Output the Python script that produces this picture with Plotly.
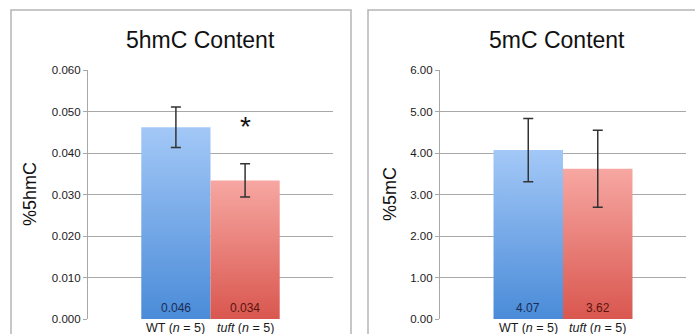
import plotly.graph_objects as go

# ---- data ----
groups = ["WT", "tuft"]
tick_labels = ["WT (<i>n</i> = 5)", "<i>tuft</i> (<i>n</i> = 5)"]
hmc_values = [0.046, 0.034]
hmc_display = [0.0462, 0.0334]
hmc_err = [0.0049, 0.0040]
mc_values = [4.07, 3.62]
mc_err = [0.76, 0.93]
titles = ["5hmC Content", "5mC Content"]
ytitles = ["%5hmC", "%5mC"]

W, H = 695, 334
FONT = "Liberation Sans, Arial, sans-serif"

blue_scale = [[0, "#4a8bd8"], [1, "#a3c8f7"]]
red_scale = [[0, "#d9574f"], [1, "#f7a7a2"]]
scales = [blue_scale, red_scale]
label_colors = ["#1a2d55", "#5a1410"]

fig = go.Figure()

def px_x(p):
    return p / W

def px_y(p):
    return (H - p) / H

panels = [
    dict(xa="x", ya="y", vals=hmc_display, lbl=hmc_values, err=hmc_err, fmt="{:.3f}",
         dom=[px_x(88), px_x(333)], rng=[0, 0.06], dtick=0.01, tfmt=".3f"),
    dict(xa="x2", ya="y2", vals=mc_values, lbl=mc_values, err=mc_err, fmt="{:.2f}",
         dom=[px_x(440), px_x(686)], rng=[0, 6], dtick=1, tfmt=".2f"),
]

xpos = [0, 1]
half = 0.5
for p in panels:
    for i, g in enumerate(groups):
        v = p["vals"][i]
        xs = [xpos[i] - half, xpos[i] + half, xpos[i] + half, xpos[i] - half, xpos[i] - half]
        ys = [0, 0, v, v, 0]
        fig.add_trace(go.Scatter(
            x=xs, y=ys, xaxis=p["xa"], yaxis=p["ya"], mode="lines",
            line=dict(width=0), fill="toself",
            fillgradient=dict(type="vertical", colorscale=scales[i], start=0, stop=v),
            showlegend=False, hoverinfo="skip"))
    fig.add_trace(go.Scatter(
        x=xpos, y=p["vals"], xaxis=p["xa"], yaxis=p["ya"], mode="markers",
        marker=dict(size=1, opacity=0),
        error_y=dict(type="data", array=p["err"], color="#333333", thickness=1.5, width=5),
        showlegend=False, hoverinfo="skip"))

layout = dict(
    width=W, height=H, margin=dict(l=0, r=0, t=0, b=0),
    paper_bgcolor="white", plot_bgcolor="white",
    font=dict(family=FONT, color="#222222", size=11),
    showlegend=False,
)
ydom = [px_y(319), px_y(70)]
for k, p in enumerate(panels):
    sfx = "" if k == 0 else "2"
    layout["xaxis" + sfx] = dict(
        domain=p["dom"], range=[-1.27, 2.27], tickvals=xpos, showticklabels=False,
        showgrid=False, zeroline=False, showline=False, ticks="",
        anchor="y" + sfx, automargin=False, fixedrange=True)
    layout["yaxis" + sfx] = dict(
        domain=ydom, range=p["rng"], dtick=p["dtick"], tickformat=p["tfmt"],
        showgrid=True, gridcolor="#a8a8a8", gridwidth=1.2,
        showline=True, linecolor="#a8a8a8", linewidth=1.2,
        ticks="outside", ticklen=4, tickcolor="#a8a8a8",
        zeroline=False, tickfont=dict(size=11.5, color="#1a1a1a"),
        anchor="x" + sfx, automargin=False, fixedrange=True)
fig.update_layout(**layout)

annotations = []
title_x = [200, 557]
ytitle_x = [30, 390]
for k, p in enumerate(panels):
    annotations.append(dict(text=titles[k], x=px_x(title_x[k]), y=px_y(40), xref="paper", yref="paper",
                            showarrow=False, font=dict(size=23, color="#111111"),
                            xanchor="center", yanchor="middle"))
    annotations.append(dict(text=ytitles[k], x=px_x(ytitle_x[k]), y=px_y(194), xref="paper", yref="paper",
                            showarrow=False, textangle=-90, font=dict(size=18, color="#111111"),
                            xanchor="center", yanchor="middle"))
    sfx = "" if k == 0 else "2"
    for i in range(2):
        annotations.append(dict(text=p["fmt"].format(p["lbl"][i]), x=xpos[i], xref="x" + sfx,
                                y=0, yref="y" + sfx + " domain", yanchor="bottom", yshift=2,
                                showarrow=False, font=dict(size=12, color=label_colors[i])))
        annotations.append(dict(text=tick_labels[i], x=xpos[i], xref="x" + sfx,
                                y=0, yref="y" + sfx + " domain", yanchor="middle", yshift=-9,
                                borderpad=0, showarrow=False, font=dict(size=12.5, color="#1a1a1a")))
annotations.append(dict(text="*", x=xpos[1], xref="x", y=0.0465, yref="y", showarrow=False,
                        font=dict(size=28, color="#111111"), yanchor="middle"))
fig.update_layout(annotations=annotations)

shapes = [
    dict(type="rect", xref="paper", yref="paper", x0=px_x(11), x1=px_x(351), y0=-0.2, y1=px_y(10),
         line=dict(color="#b5b5b5", width=1.5), fillcolor="rgba(0,0,0,0)", layer="below"),
    dict(type="rect", xref="paper", yref="paper", x0=px_x(368), x1=px_x(720), y0=-0.2, y1=px_y(10),
         line=dict(color="#b5b5b5", width=1.5), fillcolor="rgba(0,0,0,0)", layer="below"),
]
fig.update_layout(shapes=shapes)

fig.write_html(
    "out.html",
    config={"displayModeBar": False},
    post_script="document.body.style.margin='0px';document.body.style.overflow='hidden';",
)
